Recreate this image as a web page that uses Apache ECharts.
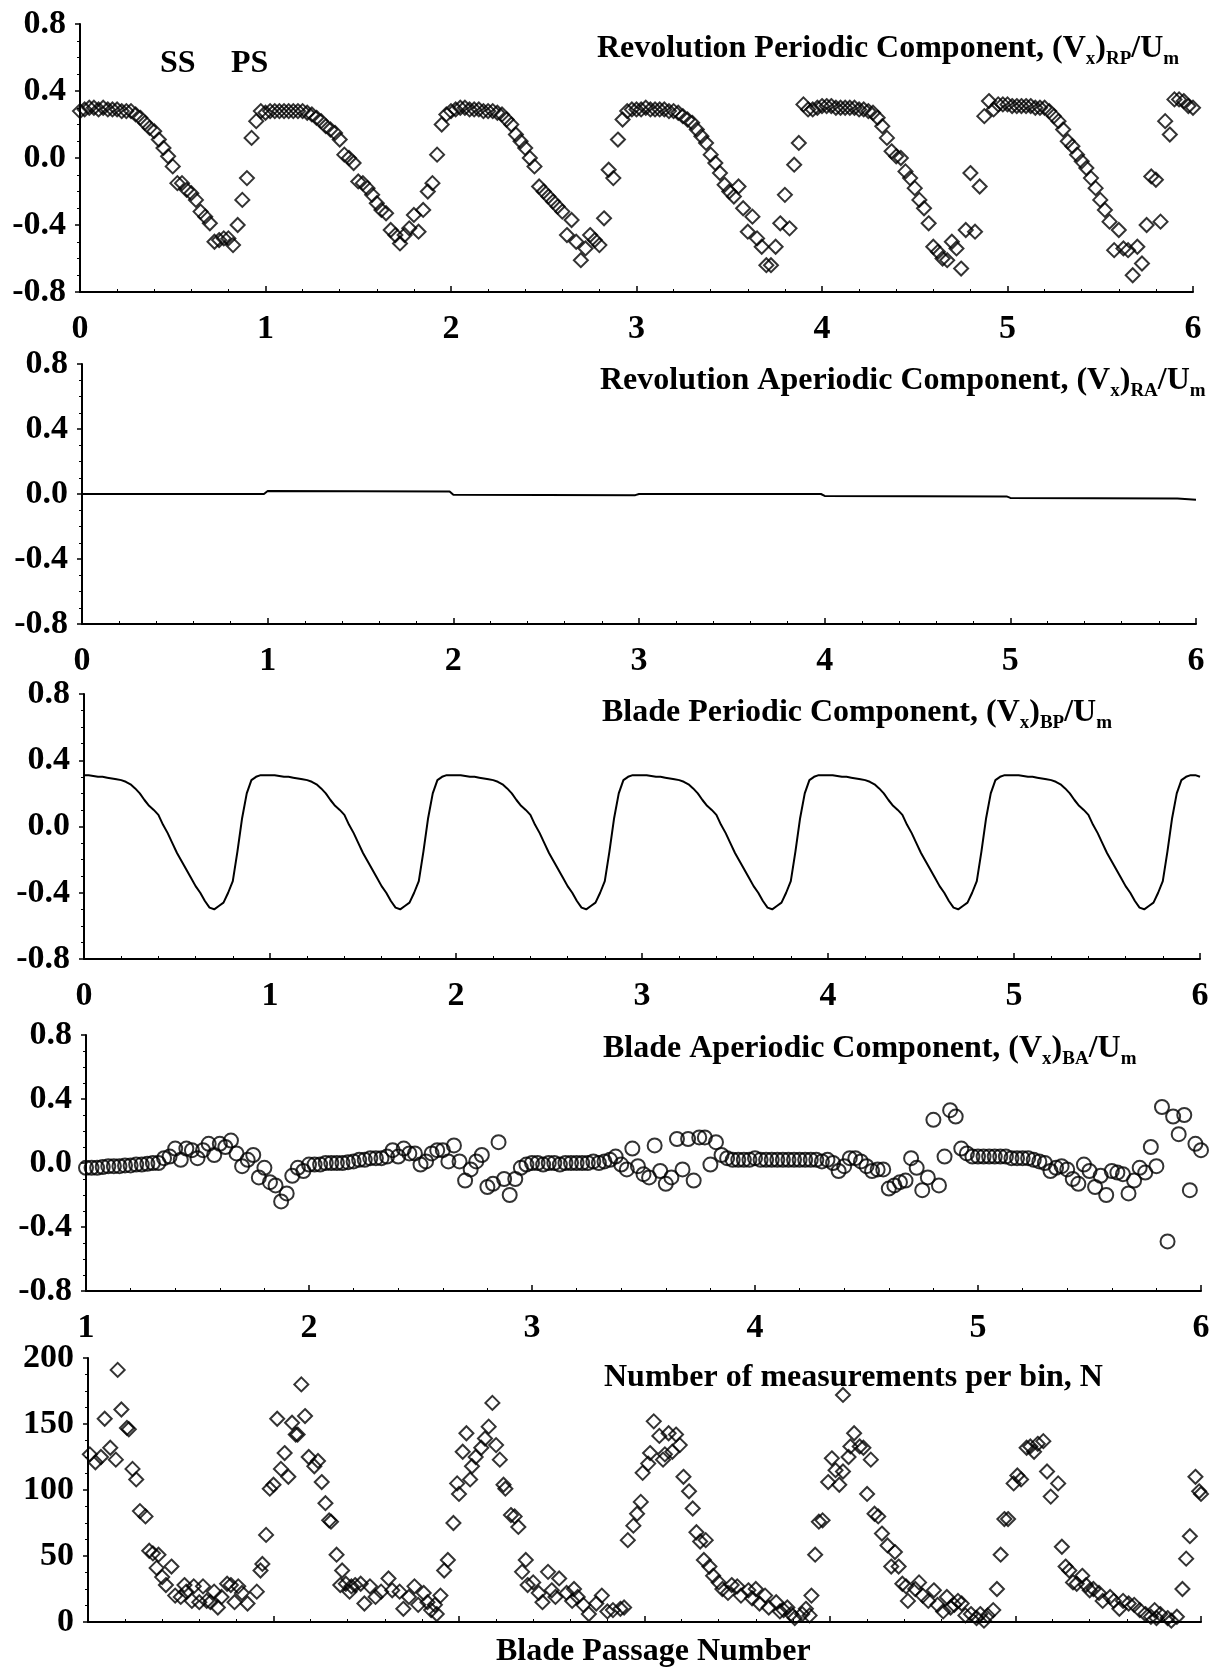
<!DOCTYPE html>
<html lang="en">
<head>
<meta charset="UTF-8">
<title>Velocity components per blade passage</title>
<style>
    html, body { margin: 0; padding: 0; background: #fff; }
    #main { width: 1223px; height: 1670px; }
</style>
</head>
<body>
<div id="main"></div>
<script src="https://cdn.jsdelivr.net/npm/echarts/dist/echarts.min.js"></script>
<script>
// bin spacing along the blade passage axis
var binWidth = 0.025;

// (Vx)RP/Um, one value per bin from x = 0
var revPeriodic = [
    0.28,0.29,0.30,0.30,0.29,0.30,0.29,0.29,0.29,0.28, 0.28,0.28,0.26,0.24,0.21,0.18,0.16,0.11,0.06,0.01,
    -0.05,-0.15,-0.15,-0.19,-0.21,-0.25,-0.32,-0.35,-0.39,-0.50, -0.49,-0.48,-0.48,-0.52,-0.40,-0.25,-0.12,0.12,0.22,0.28,
    0.27,0.28,0.28,0.28,0.28,0.28,0.28,0.28,0.28,0.27, 0.26,0.24,0.22,0.19,0.17,0.15,0.11,0.02,0.00,-0.03,
    -0.14,-0.15,-0.18,-0.22,-0.27,-0.31,-0.33,-0.43,-0.46,-0.51, -0.46,-0.42,-0.34,-0.44,-0.31,-0.20,-0.15,0.02,0.20,0.26,
    0.28,0.29,0.30,0.30,0.29,0.29,0.29,0.28,0.28,0.28, 0.27,0.26,0.23,0.20,0.14,0.10,0.06,0.00,-0.05,-0.17,
    -0.20,-0.23,-0.26,-0.29,-0.32,-0.46,-0.37,-0.50,-0.61,-0.54, -0.46,-0.49,-0.52,-0.36,-0.07,-0.12,0.11,0.23,0.28,0.29,
    0.29,0.29,0.30,0.29,0.29,0.29,0.29,0.28,0.28,0.27, 0.25,0.23,0.21,0.17,0.13,0.09,0.02,-0.03,-0.09,-0.16,
    -0.20,-0.23,-0.17,-0.30,-0.44,-0.35,-0.48,-0.53,-0.64,-0.64, -0.53,-0.39,-0.22,-0.42,-0.04,0.09,0.32,0.29,0.29,0.30,
    0.31,0.31,0.31,0.30,0.30,0.30,0.30,0.30,0.29,0.29, 0.28,0.27,0.24,0.19,0.12,0.04,0.01,0.00,-0.08,-0.12,
    -0.18,-0.25,-0.30,-0.39,-0.53,-0.56,-0.60,-0.61,-0.50,-0.54, -0.66,-0.43,-0.09,-0.44,-0.17,0.25,0.34,0.29,0.32,0.32,
    0.32,0.31,0.31,0.31,0.31,0.31,0.30,0.30,0.30,0.28, 0.25,0.22,0.17,0.10,0.07,0.02,-0.02,-0.06,-0.12,-0.18,
    -0.25,-0.31,-0.38,-0.55,-0.43,-0.54,-0.55,-0.70,-0.53,-0.63, -0.40,-0.11,-0.13,-0.38,0.22,0.14,0.35,0.35,0.34,0.31,
    0.30
];

// (Vx)RA/Um, steps at each revolution boundary
var revAperiodicX = [0, 0.98, 1.0, 1.98, 2.0, 2.98, 3.0, 3.98, 4.0, 4.98, 5.0, 5.9, 6.0];
var revAperiodicY = [0.0, 0.0, 0.018, 0.015, -0.005, -0.007, 0.0, 0.0, -0.012, -0.015, -0.024, -0.028, -0.036];

// (Vx)BP/Um, one value per bin from x = 0
var bladePeriodic = [
    0.31,0.31,0.305,0.30,0.30,0.295,0.29,0.285,0.28,0.27, 0.255,0.23,0.20,0.16,0.125,0.10,0.07,0.01,-0.04,-0.10,
    -0.16,-0.21,-0.26,-0.31,-0.36,-0.40,-0.45,-0.49,-0.50,-0.48, -0.46,-0.40,-0.33,-0.15,0.05,0.20,0.28,0.30,0.31,0.31,
    0.31,0.31,0.305,0.30,0.30,0.295,0.29,0.285,0.28,0.27, 0.255,0.23,0.20,0.16,0.125,0.10,0.07,0.01,-0.04,-0.10,
    -0.16,-0.21,-0.26,-0.31,-0.36,-0.40,-0.45,-0.49,-0.50,-0.48, -0.46,-0.40,-0.33,-0.15,0.05,0.20,0.28,0.30,0.31,0.31,
    0.31,0.31,0.305,0.30,0.30,0.295,0.29,0.285,0.28,0.27, 0.255,0.23,0.20,0.16,0.125,0.10,0.07,0.01,-0.04,-0.10,
    -0.16,-0.21,-0.26,-0.31,-0.36,-0.40,-0.45,-0.49,-0.50,-0.48, -0.46,-0.40,-0.33,-0.15,0.05,0.20,0.28,0.30,0.31,0.31,
    0.31,0.31,0.305,0.30,0.30,0.295,0.29,0.285,0.28,0.27, 0.255,0.23,0.20,0.16,0.125,0.10,0.07,0.01,-0.04,-0.10,
    -0.16,-0.21,-0.26,-0.31,-0.36,-0.40,-0.45,-0.49,-0.50,-0.48, -0.46,-0.40,-0.33,-0.15,0.05,0.20,0.28,0.30,0.31,0.31,
    0.31,0.31,0.305,0.30,0.30,0.295,0.29,0.285,0.28,0.27, 0.255,0.23,0.20,0.16,0.125,0.10,0.07,0.01,-0.04,-0.10,
    -0.16,-0.21,-0.26,-0.31,-0.36,-0.40,-0.45,-0.49,-0.50,-0.48, -0.46,-0.40,-0.33,-0.15,0.05,0.20,0.28,0.30,0.31,0.31,
    0.31,0.31,0.305,0.30,0.30,0.295,0.29,0.285,0.28,0.27, 0.255,0.23,0.20,0.16,0.125,0.10,0.07,0.01,-0.04,-0.10,
    -0.16,-0.21,-0.26,-0.31,-0.36,-0.40,-0.45,-0.49,-0.50,-0.48, -0.46,-0.40,-0.33,-0.15,0.05,0.20,0.28,0.30,0.31,0.31,
    0.30
];

// (Vx)BA/Um, one value per bin from x = 1
var bladeAperiodic = [
    -0.03,-0.03,-0.03,-0.025,-0.02,-0.02,-0.02,-0.015,-0.015,-0.01, -0.01,-0.005,0.00,0.00,0.03,0.04,0.09,0.02,0.09,0.08,
    0.03,0.08,0.12,0.05,0.12,0.10,0.14,0.06,-0.02,0.02, 0.05,-0.09,-0.03,-0.12,-0.14,-0.24,-0.19,-0.08,-0.03,-0.05,
    -0.01,-0.01,-0.01,0.00,0.00,0.00,0.00,0.005,0.01,0.02, 0.02,0.03,0.03,0.03,0.04,0.08,0.04,0.09,0.06,0.06,
    -0.01,0.01,0.06,0.08,0.08,0.01,0.11,0.01,-0.11,-0.04, 0.01,0.05,-0.15,-0.13,0.13,-0.10,-0.20,-0.10,-0.03,-0.01,
    0.00,0.00,-0.01,0.00,0.00,-0.01,0.00,0.00,0.00,0.00, 0.00,0.01,0.00,0.01,0.02,0.04,-0.01,-0.04,0.09,-0.02,
    -0.07,-0.09,0.11,-0.05,-0.13,-0.09,0.15,-0.04,0.15,-0.11, 0.16,0.16,-0.01,0.13,0.05,0.03,0.02,0.02,0.02,0.02,
    0.03,0.02,0.02,0.02,0.02,0.02,0.02,0.02,0.02,0.02, 0.02,0.02,0.01,0.02,0.00,-0.05,-0.02,0.03,0.03,0.01,
    -0.02,-0.05,-0.04,-0.04,-0.16,-0.14,-0.12,-0.11,0.03,-0.03, -0.17,-0.09,0.27,-0.14,0.04,0.33,0.29,0.09,0.06,0.04,
    0.04,0.04,0.04,0.04,0.04,0.04,0.03,0.03,0.03,0.03, 0.02,0.01,0.00,-0.05,-0.03,-0.02,-0.04,-0.10,-0.13,-0.01,
    -0.05,-0.15,-0.08,-0.20,-0.05,-0.06,-0.07,-0.19,-0.11,-0.03, -0.06,0.10,-0.02,0.35,-0.49,0.29,0.18,0.30,-0.17,0.12,
    0.08
];

// number of measurements per bin: position and count
var countPos = [
    0.01,0.04,0.07,0.09,0.12,0.15,0.16,0.18,0.21,0.22,0.24,0.26,0.28,0.31,0.33,0.35,0.37,0.38,0.40,0.42,
    0.45,0.47,0.50,0.52,0.53,0.56,0.57,0.60,0.62,0.64,0.66,0.68,0.70,0.72,0.75,0.77,0.79,0.81,0.83,0.86,
    0.91,0.93,0.94,0.96,0.98,1.00,1.02,1.04,1.06,1.08,1.10,1.12,1.13,1.15,1.17,1.19,1.22,1.24,1.26,1.28,
    1.30,1.31,1.34,1.36,1.37,1.39,1.41,1.42,1.44,1.47,1.49,1.52,1.55,1.58,1.62,1.64,1.68,1.70,1.73,1.76,
    1.78,1.81,1.83,1.85,1.87,1.88,1.90,1.92,1.94,1.97,1.99,2.00,2.02,2.04,2.06,2.07,2.09,2.12,2.14,2.16,
    2.18,2.20,2.22,2.24,2.25,2.28,2.30,2.32,2.34,2.36,2.37,2.40,2.43,2.45,2.48,2.50,2.52,2.54,2.58,2.61,
    2.62,2.64,2.67,2.70,2.74,2.77,2.80,2.83,2.87,2.89,2.91,2.94,2.96,2.98,2.99,3.02,3.03,3.05,3.08,3.10,
    3.11,3.13,3.15,3.17,3.19,3.21,3.24,3.26,3.28,3.30,3.32,3.33,3.35,3.37,3.40,3.42,3.45,3.47,3.50,3.52,
    3.56,3.58,3.60,3.62,3.65,3.67,3.71,3.73,3.75,3.77,3.79,3.81,3.85,3.87,3.89,3.90,3.92,3.94,3.96,3.99,
    4.01,4.03,4.05,4.07,4.07,4.10,4.11,4.13,4.16,4.18,4.20,4.22,4.24,4.26,4.28,4.31,4.33,4.35,4.37,4.39,
    4.41,4.42,4.46,4.48,4.50,4.53,4.56,4.58,4.61,4.63,4.65,4.67,4.69,4.71,4.73,4.76,4.79,4.81,4.83,4.85,
    4.88,4.90,4.92,4.94,4.96,4.99,5.01,5.03,5.06,5.08,5.10,5.12,5.15,5.17,5.19,5.23,5.25,5.27,5.29,5.31,
    5.33,5.36,5.38,5.40,5.42,5.45,5.47,5.51,5.53,5.56,5.58,5.61,5.64,5.67,5.70,5.73,5.75,5.76,5.78,5.82,
    5.84,5.87,5.90,5.92,5.94,5.97,5.99,6.00
];
var countN = [
    127,121,125,154,132,123,191,161,147,146,116,108,84,80,54,52,41,51,34,28,
    42,20,19,28,23,16,27,15,27,16,15,23,11,19,29,28,15,27,22,14,
    23,39,44,66,101,104,154,116,128,110,151,142,142,180,156,125,118,122,106,90,
    77,76,51,28,39,29,23,27,28,29,14,27,19,23,33,24,23,10,19,27,
    13,22,15,9,13,6,20,39,47,75,105,97,129,143,108,118,125,132,139,148,
    166,134,123,104,101,81,80,72,38,47,28,30,22,15,38,24,19,33,22,16,
    25,19,13,6,14,20,8,9,10,11,62,73,82,91,113,120,128,152,141,123,
    127,143,129,142,134,110,99,86,68,61,47,62,42,35,30,25,22,28,27,20,
    24,18,25,14,20,11,15,8,9,11,6,3,6,10,5,20,51,76,77,106,
    124,115,104,114,172,125,133,143,133,132,97,123,82,80,67,58,42,53,42,29,
    27,16,25,30,20,16,24,13,8,19,11,13,16,14,5,6,3,6,1,5,
    9,25,51,78,78,105,111,108,132,133,129,135,137,114,95,105,57,42,39,30,
    29,35,28,24,25,22,16,19,16,10,16,14,13,9,6,4,9,3,6,3,
    1,4,25,48,65,110,99,97
];

var FONT = '"Liberation Serif", "Times New Roman", serif';

// plot areas, slightly skewed like the scanned page
var panels = [
    {left: 80, top: 24, width: 1113, height: 268},
    {left: 82, top: 364, width: 1114, height: 260},
    {left: 84, top: 694, width: 1116, height: 265},
    {left: 86, top: 1035, width: 1115, height: 256},
    {left: 88, top: 1358, width: 1113, height: 264}
];

function binned(start, values) {
    return values.map(function (v, i) {
        return [start + i * binWidth, v];
    });
}

function paired(xs, ys) {
    return xs.map(function (x, i) {
        return [x, ys[i]];
    });
}

function xAxisFor(idx, min, showLabels) {
    return {
        type: 'value', gridIndex: idx, min: min, max: 6, interval: 1,
        axisLine: {show: true, onZero: false, lineStyle: {color: '#000', width: 2}},
        axisTick: {show: true, inside: true, length: 6, lineStyle: {color: '#000', width: 1.5}},
        minorTick: {show: true, splitNumber: 5, length: 3, lineStyle: {color: '#000', width: 1}},
        axisLabel: {
            show: showLabels, margin: 20, color: '#000',
            fontFamily: FONT, fontWeight: 'bold', fontSize: 34
        },
        splitLine: {show: false}
    };
}

function yAxisFor(idx, min, max, interval, digits) {
    return {
        type: 'value', gridIndex: idx, min: min, max: max, interval: interval,
        axisLine: {show: true, onZero: false, lineStyle: {color: '#000', width: 2}},
        axisTick: {show: true, length: 5, lineStyle: {color: '#000', width: 1.5}},
        minorTick: {show: true, splitNumber: 4, length: 3, lineStyle: {color: '#000', width: 1}},
        axisLabel: {
            margin: 14, color: '#000', fontFamily: FONT, fontWeight: 'bold', fontSize: 34,
            formatter: function (v) { return v.toFixed(digits); }
        },
        splitLine: {show: false}
    };
}

function title(text, left, top) {
    return {
        text: text, left: left, top: top, padding: 0,
        textStyle: {
            rich: {
                t: {fontFamily: FONT, fontWeight: 'bold', fontSize: 32, color: '#000', lineHeight: 40},
                s: {fontFamily: FONT, fontWeight: 'bold', fontSize: 19, color: '#000', lineHeight: 18, verticalAlign: 'bottom'}
            }
        }
    };
}

var hollow = {color: 'rgba(0,0,0,0)', borderColor: '#000', borderWidth: 2};

function draw() {
    var chart = echarts.init(document.getElementById('main'), null, {renderer: 'canvas'});

    var option = {
        backgroundColor: '#fff',
        animation: false,
        title: [
            title('{t|Revolution Periodic Component, (V}{s|x}{t|)}{s|RP}{t|/U}{s|m}', 597, 29),
            title('{t|Revolution Aperiodic Component, (V}{s|x}{t|)}{s|RA}{t|/U}{s|m}', 600, 361),
            title('{t|Blade Periodic Component, (V}{s|x}{t|)}{s|BP}{t|/U}{s|m}', 602, 693),
            title('{t|Blade Aperiodic Component, (V}{s|x}{t|)}{s|BA}{t|/U}{s|m}', 603, 1029),
            title('{t|Number of measurements per bin, N}', 604, 1358),
            title('{t|SS}', 160, 44),
            title('{t|PS}', 231, 44),
            title('{t|Blade Passage Number}', 496, 1632)
        ],
        grid: panels,
        xAxis: [
            xAxisFor(0, 0, true),
            xAxisFor(1, 0, true),
            xAxisFor(2, 0, true),
            xAxisFor(3, 1, true),
            xAxisFor(4, 0, false)
        ],
        yAxis: [
            yAxisFor(0, -0.8, 0.8, 0.4, 1),
            yAxisFor(1, -0.8, 0.8, 0.4, 1),
            yAxisFor(2, -0.8, 0.8, 0.4, 1),
            yAxisFor(3, -0.8, 0.8, 0.4, 1),
            yAxisFor(4, 0, 200, 50, 0)
        ],
        series: [
            {
                name: 'RP', type: 'scatter', xAxisIndex: 0, yAxisIndex: 0,
                symbol: 'diamond', symbolSize: 14, itemStyle: hollow,
                data: binned(0, revPeriodic)
            },
            {
                name: 'RA', type: 'line', xAxisIndex: 1, yAxisIndex: 1,
                showSymbol: false, lineStyle: {color: '#000', width: 2},
                data: paired(revAperiodicX, revAperiodicY)
            },
            {
                name: 'BP', type: 'line', xAxisIndex: 2, yAxisIndex: 2,
                showSymbol: false, lineStyle: {color: '#000', width: 2},
                data: binned(0, bladePeriodic)
            },
            {
                name: 'BA', type: 'scatter', xAxisIndex: 3, yAxisIndex: 3,
                symbol: 'circle', symbolSize: 14, itemStyle: hollow,
                data: binned(1, bladeAperiodic)
            },
            {
                name: 'N', type: 'scatter', xAxisIndex: 4, yAxisIndex: 4,
                symbol: 'diamond', symbolSize: 14, itemStyle: hollow,
                data: paired(countPos, countN)
            }
        ]
    };

    chart.setOption(option);
}

window.onload = function () {
    draw();
};
</script>
</body>
</html>
